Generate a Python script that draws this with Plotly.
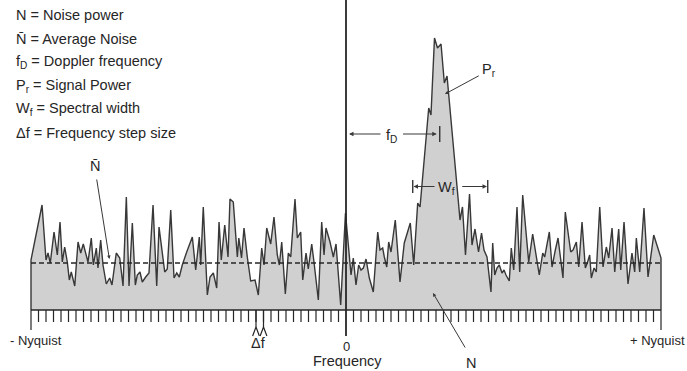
import plotly.graph_objects as go

# Doppler spectrum: frequency in units of the frequency step (Δf), 0 = zero Doppler,
# ±42 = Nyquist; power in arbitrary linear units.
freq = [-42.0, -40.53, -40.0, -39.73, -39.43, -38.93, -38.49, -38.13, -37.83, -37.51,
        -37.16, -36.89, -36.63, -36.17, -35.73, -35.37, -35.03, -34.4, -33.96, -33.69,
        -33.29, -33.07, -32.71, -32.4, -31.96, -31.51, -31.2, -30.63, -30.17, -29.73,
        -29.29, -28.93, -28.49, -28.09, -27.83, -27.47, -27.16, -26.71, -26.27, -25.73,
        -25.24, -24.93, -24.49, -24.17, -23.83, -23.37, -22.93, -22.57, -22.23, -21.83,
        -21.24, -20.49, -20.04, -19.56, -19.37, -19.03, -18.49, -18.13, -17.69, -17.24,
        -16.93, -16.63, -16.17, -15.73, -15.47, -15.03, -14.49, -14.29, -13.93, -13.6,
        -13.16, -12.71, -12.13, -11.69, -11.24, -10.93, -10.57, -10.04, -9.6, -9.16,
        -8.89, -8.57, -8.09, -7.69, -7.37, -6.8, -6.49, -6.04, -5.77, -5.33,
        -5.03, -4.57, -4.27, -3.69, -3.24, -2.93, -2.67, -2.13, -1.69, -1.33,
        -0.71, -0.07, 0.67, 0.97, 1.33, 1.69, 2.0, 2.31, 2.67, 3.11,
        3.64, 4.23, 4.53, 4.89, 5.11, 5.43, 5.69, 6.0, 6.57, 7.2,
        7.77, 8.57, 9.03, 9.56, 9.87, 11.03, 11.33, 11.8, 12.2, 12.67,
        13.11, 13.47, 15.0, 15.2, 15.53, 15.93, 16.47, 16.8, 17.2, 17.67,
        18.07, 18.4, 18.8, 19.11, 19.33, 19.56, 19.83, 20.13, 20.44, 20.8,
        21.07, 21.33, 21.77, 22.04, 22.36, 22.8, 23.16, 23.56, 23.91, 24.36,
        24.89, 25.33, 25.77, 26.23, 26.49, 27.11, 27.47, 27.91, 28.27, 28.93,
        29.24, 29.96, 30.27, 30.71, 31.03, 31.47, 31.91, 32.17, 32.49, 32.71,
        33.07, 33.37, 33.83, 34.27, 34.71, 35.03, 35.47, 35.83, 36.36, 36.63,
        37.07, 37.6, 38.13, 38.49, 38.71, 39.16, 39.73, 40.27, 41.03, 42.0]

power = [5.0, 10.5, 5.0, 5.7, 4.7, 7.8, 5.5, 8.8, 4.8, 6.3,
         4.8, 3.0, 3.8, 2.4, 6.8, 5.7, 6.6, 4.8, 7.2, 4.5,
         6.2, 4.2, 7.0, 4.5, 2.6, 3.2, 2.5, 5.7, 5.2, 2.4,
         11.3, 2.4, 8.7, 2.5, 3.5, 3.8, 2.8, 3.3, 3.7, 10.5,
         2.4, 8.3, 5.5, 3.8, 4.1, 10.0, 3.2, 3.7, 3.3, 4.5,
         5.8, 7.3, 4.0, 7.3, 4.5, 10.3, 1.5, 3.3, 3.7, 2.2,
         8.8, 5.0, 8.5, 5.3, 11.1, 10.8, 5.3, 7.2, 5.2, 8.2,
         5.3, 2.9, 3.0, 1.5, 6.2, 4.5, 8.2, 6.6, 9.3, 5.5,
         4.5, 6.8, 1.6, 5.7, 5.3, 11.1, 7.2, 7.8, 3.0, 5.7,
         4.1, 6.6, 4.8, 1.0, 8.8, 5.5, 8.2, 6.8, 5.3, 6.6,
         0.5, 9.7, 3.5, 5.2, 2.5, 4.5, 4.0, 4.2, 5.1, 3.2,
         1.8, 7.8, 6.0, 6.2, 5.3, 4.3, 6.8, 5.8, 9.0, 2.8,
         6.7, 8.7, 4.5, 10.7, 10.3, 20.2, 19.5, 27.2, 26.2, 26.6,
         22.7, 23.4, 10.7, 9.0, 10.3, 5.5, 11.6, 6.5, 8.1, 5.8,
         7.7, 6.0, 5.3, 3.5, 1.8, 6.7, 3.5, 4.2, 4.5, 3.7,
         4.0, 3.5, 2.9, 6.2, 4.0, 10.3, 3.8, 11.5, 8.2, 4.8,
         7.6, 5.5, 3.5, 5.7, 5.3, 7.8, 4.3, 6.0, 7.2, 3.2,
         9.8, 5.8, 6.0, 6.8, 4.3, 8.8, 4.2, 4.7, 5.5, 3.2,
         4.2, 3.8, 10.3, 4.3, 6.3, 5.2, 8.2, 3.8, 8.1, 4.0,
         8.8, 2.6, 5.7, 3.8, 7.2, 3.8, 10.2, 3.3, 7.5, 5.2]

avg_noise = 4.7          # N-bar
nyquist = 42             # ± Nyquist, in Δf steps
doppler_freq = 12.5      # f_D
width_lo, width_hi = 8.9, 18.9   # W_f span
delta_f_bins = [-12, -11]

legend_lines = ["N = Noise power",
                "N\u0304 = Average Noise",
                "f<sub>D</sub> = Doppler frequency",
                "P<sub>r</sub> = Signal Power",
                "W<sub>f</sub> = Spectral width",
                "\u0394f = Frequency step size"]

INK = "#262626"
LINE = "#383838"
FILL = "#d0d0d0"
FONT = "Liberation Sans, Arial, sans-serif"

fig = go.Figure()

# spectrum, filled down to the baseline
fig.add_trace(go.Scatter(
    x=[-nyquist] + freq + [nyquist], y=[0] + power + [0],
    mode="lines", fill="toself", fillcolor=FILL,
    line=dict(color=LINE, width=1.4), hoverinfo="skip"))

# average noise level
fig.add_trace(go.Scatter(
    x=[-nyquist, nyquist], y=[avg_noise, avg_noise], mode="lines",
    line=dict(color=INK, width=1.4, dash="5px,3px"), hoverinfo="skip"))

# frequency-step tick comb below the baseline
tick_x, tick_y = [], []
for k in range(-nyquist + 1, nyquist):
    if k == 0:
        continue
    tick_x += [k, k, None]
    tick_y += [0, -1.2, None]
for k in (-nyquist, nyquist):
    tick_x += [k, k, None]
    tick_y += [0, -2.0, None]
for k in delta_f_bins:
    tick_x += [k, k, None, k - 0.45, k, k + 0.45, None]
    tick_y += [0, -1.7, None, -2.6, -1.7, -2.6, None]
fig.add_trace(go.Scatter(x=tick_x, y=tick_y, mode="lines",
                         line=dict(color=INK, width=1.2), hoverinfo="skip"))

# baseline and zero-frequency line
fig.add_trace(go.Scatter(x=[-nyquist, nyquist], y=[0, 0], mode="lines",
                         line=dict(color=INK, width=1.6), hoverinfo="skip"))
fig.add_trace(go.Scatter(x=[0, 0], y=[31.2, -2.6], mode="lines",
                         line=dict(color=INK, width=1.8), hoverinfo="skip"))

# f_D and W_f end bars
fig.add_trace(go.Scatter(
    x=[doppler_freq, doppler_freq, None, width_lo, width_lo, None, width_hi, width_hi],
    y=[18.4, 16.8, None, 13.0, 11.7, None, 13.0, 11.7],
    mode="lines", line=dict(color=INK, width=1.3), hoverinfo="skip"))

annotations = []


def arrow(x_head, y_head, x_tail, y_tail, size=0.9):
    annotations.append(dict(
        x=x_head, y=y_head, ax=x_tail, ay=y_tail, xref="x", yref="y",
        axref="x", ayref="y", text="", showarrow=True, arrowhead=2,
        arrowsize=size, arrowwidth=1.0, arrowcolor=LINE))


def label(x, y, text, size=14.5, xanchor="center", yanchor="middle"):
    annotations.append(dict(
        x=x, y=y, xref="x", yref="y", text=text, showarrow=False,
        xanchor=xanchor, yanchor=yanchor,
        font=dict(family=FONT, size=size, color=INK)))


# f_D: distance from zero frequency to the mean Doppler frequency
arrow(0.4, 17.6, 4.8, 17.6)
arrow(doppler_freq - 0.4, 17.6, 7.4, 17.6)
label(6.1, 17.4, "f<sub>D</sub>")

# W_f: spectral width
arrow(width_lo + 0.1, 12.35, 12.0, 12.35)
arrow(width_hi - 0.1, 12.35, 15.3, 12.35)
label(13.45, 12.2, "W<sub>f</sub>")

# leader lines to the named quantities
arrow(13.2, 21.6, 17.9, 23.5, size=0.7)
label(19.1, 24.0, "P<sub>r</sub>")
arrow(11.6, 1.7, 16.0, -3.9, size=0.7)
label(16.7, -5.3, "N")
arrow(-31.55, 5.1, -33.27, 13.2, size=0.7)
label(-33.5, 14.4, "N\u0304")

# axis labels
label(-45.1, -3.0, "- Nyquist", size=13, xanchor="left")
label(45.4, -3.0, "+ Nyquist", size=13, xanchor="right")
label(0.1, -3.6, "0", size=13)
label(0.2, -5.1, "Frequency")
label(-11.7, -3.3, "\u0394f")

# definitions block
for i, text in enumerate(legend_lines):
    label(-44.3, 29.5 - 2.36 * i, text, xanchor="left")

fig.update_layout(
    width=687, height=371,
    margin=dict(l=0, r=0, t=0, b=0),
    paper_bgcolor="white", plot_bgcolor="white",
    showlegend=False,
    xaxis=dict(range=[-346 / 7.5, 341 / 7.5], visible=False, fixedrange=True),
    yaxis=dict(range=[-6.1, 31.0], visible=False, fixedrange=True),
    annotations=annotations,
)

fig.write_html("out.html")
